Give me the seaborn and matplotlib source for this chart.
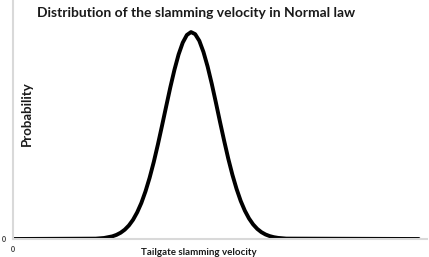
import numpy as np
import pandas as pd
import matplotlib
matplotlib.use('Agg')
import matplotlib.pyplot as plt
import seaborn as sns

# velocity (arbitrary units along the axis) and relative probability
VELOCITY = [0, 20, 22, 24, 25, 26, 27, 28, 29, 30, 31, 32, 33, 34, 35, 36, 37, 38,
            39, 40, 41, 42, 43, 44, 45, 46, 47, 48, 49, 50, 51, 52, 53, 54, 55,
            56, 57, 58, 59, 60, 61, 62, 63, 64, 66, 98]
PROBABILITY = [0.0, 0.0017, 0.0049, 0.0128, 0.020, 0.0304, 0.0452, 0.0656, 0.093,
               0.129, 0.174, 0.230, 0.296, 0.372, 0.457, 0.548, 0.641, 0.733,
               0.818, 0.892, 0.949, 0.986, 1.0, 0.990, 0.958, 0.904, 0.834, 0.751,
               0.660, 0.566, 0.475, 0.388, 0.310, 0.242, 0.184,
               0.137, 0.0995, 0.0705, 0.0488, 0.033, 0.0218, 0.014, 0.0088,
               0.0054, 0.0019, 0.0]
TICK_LABELS = ['0']

sns.set_style('white')
plt.rcParams['font.family'] = ['Lato', 'DejaVu Sans']

df = pd.DataFrame({'velocity': VELOCITY, 'probability': PROBABILITY})

fig = plt.figure(figsize=(4.29, 2.57), dpi=100)
ax = fig.add_axes([13 / 429, 18 / 257, 414 / 429, 239 / 257])

sns.lineplot(data=df, x='velocity', y='probability', ax=ax, color='black',
             linewidth=2.8, solid_joinstyle='round', solid_capstyle='round')

ax.set_xlim(0, 100)
ax.set_ylim(0, 1.155)
ax.set_xticks([0])
ax.set_yticks([0])
ax.set_xticklabels(TICK_LABELS, fontsize=5, fontweight='bold', color='#333333')
ax.set_yticklabels(TICK_LABELS, fontsize=5, fontweight='bold', color='#333333')
ax.tick_params(axis='both', length=0, pad=5)
ax.set_xlabel('')
ax.set_ylabel('')

for side in ['top', 'right']:
    ax.spines[side].set_visible(False)
for side in ['left', 'bottom']:
    ax.spines[side].set_color('#d9d9d9')
    ax.spines[side].set_linewidth(1.5)

fig.text(196 / 429, 1 - 13 / 257, 'Distribution of the slamming velocity in Normal law',
         ha='center', va='center', fontsize=10, fontweight='bold', color='#1a1a1a')
fig.text(27 / 429, 1 - 114 / 257, 'Probability', rotation=90, ha='center', va='center',
         fontsize=9.5, fontweight='bold', color='#1a1a1a')
fig.text(199 / 429, 1 - 248 / 257, 'Tailgate slamming velocity', ha='center', va='top',
         fontsize=7, fontweight='bold', color='#1a1a1a')

fig.savefig('out.png', dpi=100)
